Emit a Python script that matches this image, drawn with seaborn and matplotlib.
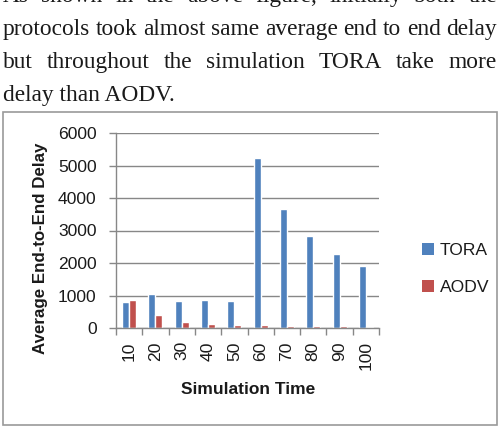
import matplotlib
matplotlib.use("Agg")
import matplotlib.pyplot as plt
import seaborn as sns
import pandas as pd
from matplotlib.patches import Rectangle, Patch

# ---- data ----
sim_time = [10, 20, 30, 40, 50, 60, 70, 80, 90, 100]
tora = [810, 1060, 830, 865, 840, 5240, 3660, 2840, 2270, 1910]
aodv = [855, 400, 200, 115, 100, 80, 70, 60, 50, 45]
series = ["TORA", "AODV"]
colors = ["#4F81BD", "#C0504D"]
y_ticks = [0, 1000, 2000, 3000, 4000, 5000, 6000]
para_lines = [
    "As shown in the above figure, initially both the",
    "protocols took almost same average end to end delay",
    "but throughout the simulation TORA take more",
    "delay than AODV.",
]

df = pd.DataFrame({
    "Simulation Time": [str(t) for t in sim_time] * 2,
    "Delay": tora + aodv,
    "Protocol": ["TORA"] * len(sim_time) + ["AODV"] * len(sim_time),
})

sns.set_theme(style="white")
plt.rcParams["font.family"] = ["Liberation Sans", "DejaVu Sans"]

W, H = 499, 434
fig = plt.figure(figsize=(W / 100, H / 100), dpi=100)
fig.patch.set_facecolor("white")

# ---- paragraph text (justified) ----
renderer = fig.canvas.get_renderer()
left_px, right_px = 3, 497
baselines = [2, 35, 68, 101]
fs = 16.8
for i, line in enumerate(para_lines):
    y = 1 - baselines[i] / H
    words = line.split()
    if i == len(para_lines) - 1:
        fig.text(left_px / W, y, line, fontsize=fs, family="Liberation Serif",
                 color="#1a1a1a", va="baseline", ha="left")
        continue
    texts = [fig.text(0, y, w_, fontsize=fs, family="Liberation Serif",
                      color="#1a1a1a", va="baseline", ha="left") for w_ in words]
    widths = [t.get_window_extent(renderer).width for t in texts]
    gap = (right_px - left_px - sum(widths)) / (len(words) - 1)
    x = left_px
    for t, wd in zip(texts, widths):
        t.set_x(x / W)
        x += wd + gap

# ---- chart border ----
fig.patches.append(Rectangle((3 / W, 1 - 425 / H), 494 / W, 313 / H,
                             transform=fig.transFigure, fill=False,
                             edgecolor="#9A9A9A", linewidth=1.2))

# ---- axes ----
ax = fig.add_axes([116 / W, 1 - 328 / H, 263 / W, 195 / H])
sns.barplot(data=df, x="Simulation Time", y="Delay", hue="Protocol",
            hue_order=series, palette=colors, width=0.53, gap=0,
            saturation=1, ax=ax, legend=False)

ax.set_ylim(0, 6000)
ax.set_xlim(-0.5, len(sim_time) - 0.5)
ax.set_yticks(y_ticks)
ax.set_yticklabels([str(v) for v in y_ticks], fontsize=12.6, color="#1a1a1a")
ax.set_xticks(range(len(sim_time)))
ax.set_xticklabels([str(t) for t in sim_time], rotation=90, fontsize=12.6, color="#1a1a1a")
ax.tick_params(axis="x", length=0, pad=9.5)
ax.tick_params(axis="y", length=5, width=1, color="#878787", direction="out", left=True, pad=9)
ax.set_xticks([i - 0.5 for i in range(len(sim_time) + 1)], minor=True)
ax.tick_params(axis="x", which="minor", length=5, width=1, color="#878787", direction="out", bottom=True)

ax.yaxis.grid(True, color="#878787", linewidth=1)
ax.set_axisbelow(True)
for s in ["top", "right"]:
    ax.spines[s].set_visible(False)
for s in ["left", "bottom"]:
    ax.spines[s].set_color("#878787")
    ax.spines[s].set_linewidth(1)

ax.set_xlabel("Simulation Time", fontsize=12.5, fontweight="bold", color="#1a1a1a")
ax.set_ylabel("Average End-to-End Delay", fontsize=12.2, fontweight="bold", color="#1a1a1a")
ax.xaxis.label.set_va("center")
ax.yaxis.label.set_va("center")
ax.xaxis.set_label_coords((248 - 116) / 263, (328 - 390) / 195)
ax.yaxis.set_label_coords((41 - 116) / 263, (328 - 248) / 195)

handles = [Patch(facecolor=c, edgecolor="none") for c in colors]
fig.legend(handles, series, loc="center left", bbox_to_anchor=(406 / W, 1 - 269 / H),
           frameon=False, fontsize=12.6, handlelength=0.7, handleheight=0.7,
           handletextpad=0.35, labelspacing=1.25, labelcolor="#1a1a1a")

fig.savefig("out.png", dpi=100)
